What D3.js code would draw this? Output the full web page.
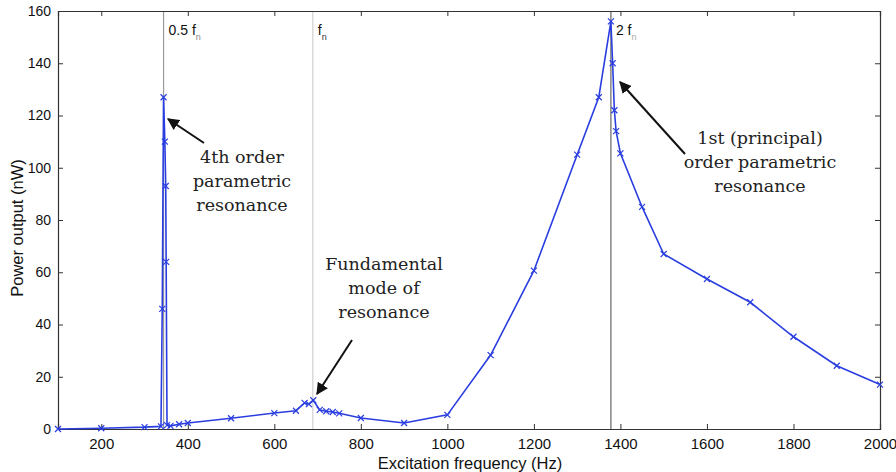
<!DOCTYPE html>
<html>
<head>
<meta charset="utf-8">
<script src="https://cdn.jsdelivr.net/npm/d3@7"></script>
<style>
  body { margin: 0; background: #fff; }
  text { font-family: "Liberation Sans", Arial, sans-serif; }
  .note { font-family: "DejaVu Serif", "Liberation Serif", serif; font-size: 17.5px; fill: #222; }
</style>
</head>
<body>
<div id="chart"></div>
<script>
// measured frequency sweep (Hz) and power output (nW)
const freq  = [100, 200, 300, 338, 341, 344, 347, 349, 350, 352, 360, 380, 400, 500, 600, 650, 670, 680, 690, 705, 720, 735, 750, 800, 900, 1000, 1100, 1200, 1300, 1350, 1378, 1382, 1386, 1390, 1400, 1450, 1500, 1600, 1700, 1800, 1900, 2000];
const power = [0, 0.3, 0.7, 1, 46, 127, 110, 93, 64, 1.5, 1.2, 1.8, 2.3, 4.1, 6.1, 7, 10, 9.5, 11, 7.3, 6.8, 6.5, 6, 4.2, 2.3, 5.4, 28.3, 60.6, 105, 127, 156, 140, 122, 114, 105.5, 85, 67, 57.4, 48.5, 35.3, 24.2, 17];

const xTicks = [200, 400, 600, 800, 1000, 1200, 1400, 1600, 1800, 2000];
const yTicks = [0, 20, 40, 60, 80, 100, 120, 140, 160];

// resonance markers
const resLines = [
  {f: 344, label: "0.5 f", color: "#9a9a9a", sub: "#888"},
  {f: 689, label: "f", color: "#d0d0d0", sub: "#333"},
  {f: 1378, label: "2 f", color: "#666", sub: "#aaa"}
];

const notes = [
  {lines: ["4th order", "parametric", "resonance"], x: 242, y: 163},
  {lines: ["Fundamental", "mode of", "resonance"], x: 384, y: 270},
  {lines: ["1st (principal)", "order parametric", "resonance"], x: 760, y: 144}
];
const arrows = [
  {x1: 204, y1: 143, x2: 168, y2: 119},
  {x1: 352, y1: 340, x2: 317, y2: 394},
  {x1: 685, y1: 154, x2: 620, y2: 82}
];

const margin = {top: 11, right: 16, bottom: 43, left: 58},
      width = 896 - margin.left - margin.right,
      height = 472 - margin.top - margin.bottom;

const x = d3.scaleLinear().domain([100, 2000]).range([0, width]);
const y = d3.scaleLinear().domain([0, 160]).range([height, 0]);

const svg = d3.select("#chart").append("svg")
    .attr("width", 896)
    .attr("height", 472)
  .append("g")
    .attr("transform", "translate(" + margin.left + "," + margin.top + ")");

// vertical resonance lines
svg.selectAll(".res")
  .data(resLines)
  .enter().append("line")
    .attr("x1", d => x(d.f)).attr("x2", d => x(d.f))
    .attr("y1", 0).attr("y2", height)
    .attr("stroke", d => d.color)
    .attr("stroke-width", 1.2);

const rl = svg.selectAll(".reslabel")
  .data(resLines)
  .enter().append("text")
    .attr("x", d => x(d.f) + 5)
    .attr("y", 24)
    .style("font-size", "14px")
    .attr("fill", "#111");
rl.append("tspan").text(d => d.label);
rl.append("tspan").attr("dy", 5).style("font-size", "9px").attr("fill", d => d.sub).text("n");

// axes
const axisColor = "#333";
const gx = svg.append("g")
    .attr("transform", "translate(0," + height + ")")
    .call(d3.axisBottom(x).tickValues(xTicks).tickSize(-5).tickPadding(9).tickFormat(d3.format("d")));
const gy = svg.append("g")
    .call(d3.axisLeft(y).tickValues(yTicks).tickSize(-5).tickPadding(7));
const gt = svg.append("g")
    .call(d3.axisTop(x).tickValues(xTicks).tickSize(-5).tickFormat(""));
const gr = svg.append("g")
    .attr("transform", "translate(" + width + ",0)")
    .call(d3.axisRight(y).tickValues(yTicks).tickSize(-5).tickFormat(""));
[gx, gy, gt, gr].forEach(g => {
  g.select(".domain").attr("stroke", axisColor).attr("stroke-width", 1.2);
  g.selectAll(".tick line").attr("stroke", axisColor);
  g.selectAll(".tick text").style("font-size", "14px").attr("fill", "#111")
    .style("font-family", "'Liberation Sans', Arial, sans-serif");
});
gx.selectAll(".tick text").style("font-size", "15px");

// data line
const line = d3.line()
    .x((d, i) => x(freq[i]))
    .y(d => y(d));

svg.append("path")
    .datum(power)
    .attr("d", line)
    .attr("fill", "none")
    .attr("stroke", "#2a3ee0")
    .attr("stroke-width", 1.6);

// x markers
const s = 3;
svg.selectAll(".mk")
  .data(power)
  .enter().append("path")
    .attr("d", (d, i) => {
      const cx = x(freq[i]), cy = y(d);
      return `M${cx - s},${cy - s}L${cx + s},${cy + s}M${cx - s},${cy + s}L${cx + s},${cy - s}`;
    })
    .attr("stroke", "#2a3ee0")
    .attr("stroke-width", 1.2);

// annotations
svg.append("defs").append("marker")
    .attr("id", "head")
    .attr("viewBox", "0 0 10 10")
    .attr("refX", 9).attr("refY", 5)
    .attr("markerWidth", 6).attr("markerHeight", 6)
    .attr("orient", "auto")
  .append("path")
    .attr("d", "M0,0L10,5L0,10z")
    .attr("fill", "#111");

svg.selectAll(".arrow")
  .data(arrows)
  .enter().append("line")
    .attr("x1", d => d.x1 - margin.left).attr("y1", d => d.y1 - margin.top)
    .attr("x2", d => d.x2 - margin.left).attr("y2", d => d.y2 - margin.top)
    .attr("stroke", "#111")
    .attr("stroke-width", 2)
    .attr("marker-end", "url(#head)");

notes.forEach(n => {
  const t = svg.append("text")
      .attr("class", "note")
      .attr("text-anchor", "middle")
      .attr("x", n.x - margin.left)
      .attr("y", n.y - margin.top);
  n.lines.forEach((l, i) => {
    t.append("tspan").attr("x", n.x - margin.left).attr("dy", i === 0 ? 0 : 24).text(l);
  });
});

// axis titles
svg.append("text")
    .attr("x", 470 - margin.left)
    .attr("y", height + 40)
    .attr("text-anchor", "middle")
    .style("font-size", "16.5px")
    .attr("fill", "#111")
    .text("Excitation frequency (Hz)");

svg.append("text")
    .attr("transform", "rotate(-90)")
    .attr("x", -(228 - margin.top))
    .attr("y", -35)
    .attr("text-anchor", "middle")
    .style("font-size", "16.5px")
    .attr("fill", "#111")
    .text("Power output (nW)");
</script>
</body>
</html>
